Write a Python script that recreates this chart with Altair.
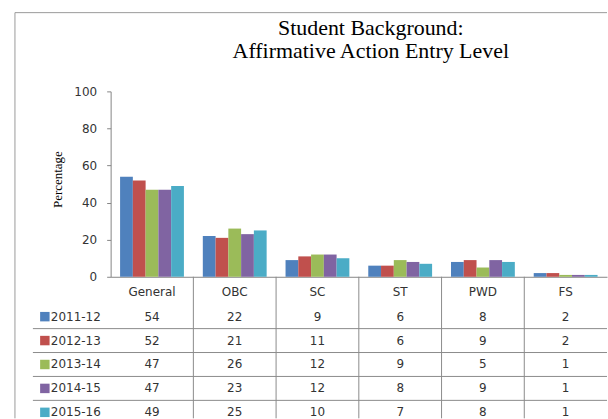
import altair as alt
import pandas as pd

categories = ["General", "OBC", "SC", "ST", "PWD", "FS"]
years = ["2011-12", "2012-13", "2013-14", "2014-15", "2015-16"]
v_2011 = [54, 22, 9, 6, 8, 2]
v_2012 = [52, 21, 11, 6, 9, 2]
v_2013 = [47, 26, 12, 9, 5, 1]
v_2014 = [47, 23, 12, 8, 9, 1]
v_2015 = [49, 25, 10, 7, 8, 1]
series = [v_2011, v_2012, v_2013, v_2014, v_2015]
colors = ["#4F81BD", "#C0504D", "#9BBB59", "#8064A2", "#4BACC6"]
title_lines = ["Student Background:", "Affirmative Action Entry Level"]
y_ticks = [0, 20, 40, 60, 80, 100]

rows = []
for yr, vals in zip(years, series):
    for c, v in zip(categories, vals):
        rows.append({"category": c, "year": yr, "value": v})
df = pd.DataFrame(rows)
cat_df = pd.DataFrame({"category": categories})
inner_cat_df = pd.DataFrame({"category": categories[1:]})
year_df = pd.DataFrame({"year": years})
line_year_df = pd.DataFrame({"year": years[:-1]})

W, H = 498, 186
FONT = "DejaVu Sans"
TXT = "#333333"
GRID = "#8c8c8c"

x_scale = alt.Scale(domain=categories, paddingInner=0, paddingOuter=0)
color_enc = alt.Color("year:N", scale=alt.Scale(domain=years, range=colors), legend=None)
row_scale = alt.Scale(type="point", domain=years, range=[226, 322], padding=0)
band_rows = alt.Scale(type="band", domain=years, range=[214, 334], paddingInner=0, paddingOuter=0)

bars = alt.Chart(df).mark_bar().encode(
    x=alt.X("category:N", sort=categories, scale=x_scale,
            axis=alt.Axis(labels=False, ticks=False, title=None, domainColor="#868686")),
    xOffset=alt.XOffset("year:N", sort=years,
                        scale=alt.Scale(domain=years, paddingInner=0, paddingOuter=0.74)),
    y=alt.Y("value:Q", scale=alt.Scale(domain=[0, 100]),
            axis=alt.Axis(values=y_ticks, title="Percentage", grid=False,
                          labelFont=FONT, labelFontSize=12, labelColor=TXT,
                          tickSize=4, tickColor="#868686", domainColor="#868686",
                          labelPadding=10,
                          titleFont="Liberation Serif", titleFontSize=13,
                          titleFontWeight="normal", titleColor="#000000",
                          titleX=-53, titleY=88, titleAlign="center",
                          titleBaseline="middle", titleAngle=-90)),
    color=color_enc,
)

header = alt.Chart(cat_df).mark_text(font=FONT, fontSize=12, color=TXT, baseline="middle").encode(
    x=alt.X("category:N", sort=categories, scale=x_scale),
    y=alt.value(201),
    text="category:N",
)

cells = alt.Chart(df).mark_text(font=FONT, fontSize=12, color=TXT, baseline="middle").encode(
    x=alt.X("category:N", sort=categories, scale=x_scale),
    y=alt.Y("year:N", scale=row_scale, axis=None),
    text="value:Q",
)

row_labels = alt.Chart(year_df).mark_text(font=FONT, fontSize=12, color=TXT, align="left",
                                           baseline="middle").encode(
    x=alt.value(-60),
    y=alt.Y("year:N", scale=row_scale, axis=None),
    text="year:N",
)

swatches = alt.Chart(year_df).mark_square(size=90, opacity=1).encode(
    x=alt.value(-66),
    y=alt.Y("year:N", scale=row_scale, axis=None),
    color=color_enc,
)

hlines = alt.Chart(line_year_df).mark_rule(color=GRID, strokeWidth=1).encode(
    y=alt.Y("year:N", scale=band_rows, bandPosition=1, axis=None),
    x=alt.value(-78),
    x2=alt.value(W),
)

vlines = alt.Chart(inner_cat_df).mark_rule(color=GRID, strokeWidth=1).encode(
    x=alt.X("category:N", sort=categories, scale=x_scale, bandPosition=0),
    y=alt.value(H),
    y2=alt.value(328),
)

border_top = alt.Chart(cat_df.head(1)).mark_rule(color="#9a9a9a", strokeWidth=1).encode(
    x=alt.value(-96), x2=alt.value(W), y=alt.value(-79),
)
border_left = alt.Chart(cat_df.head(1)).mark_rule(color="#9a9a9a", strokeWidth=1).encode(
    x=alt.value(-96), y=alt.value(-79), y2=alt.value(328),
)

title = alt.Chart(cat_df.head(1)).mark_text(
    font="Liberation Serif", fontSize=22, color="#000000", align="center",
    baseline="alphabetic", lineHeight=24,
).encode(
    x=alt.value(261), y=alt.value(-57), text=alt.value(title_lines),
)

chart = alt.layer(
    hlines, vlines, bars, header, cells, row_labels, swatches,
    border_top, border_left, title,
).resolve_scale(y="independent").properties(
    width=W, height=H,
    padding={"left": 14, "top": 11, "right": 0, "bottom": 0},
    background="#ffffff",
).configure_view(strokeWidth=0)

chart.save("out.html", embed_options={"renderer": "svg", "actions": False})
